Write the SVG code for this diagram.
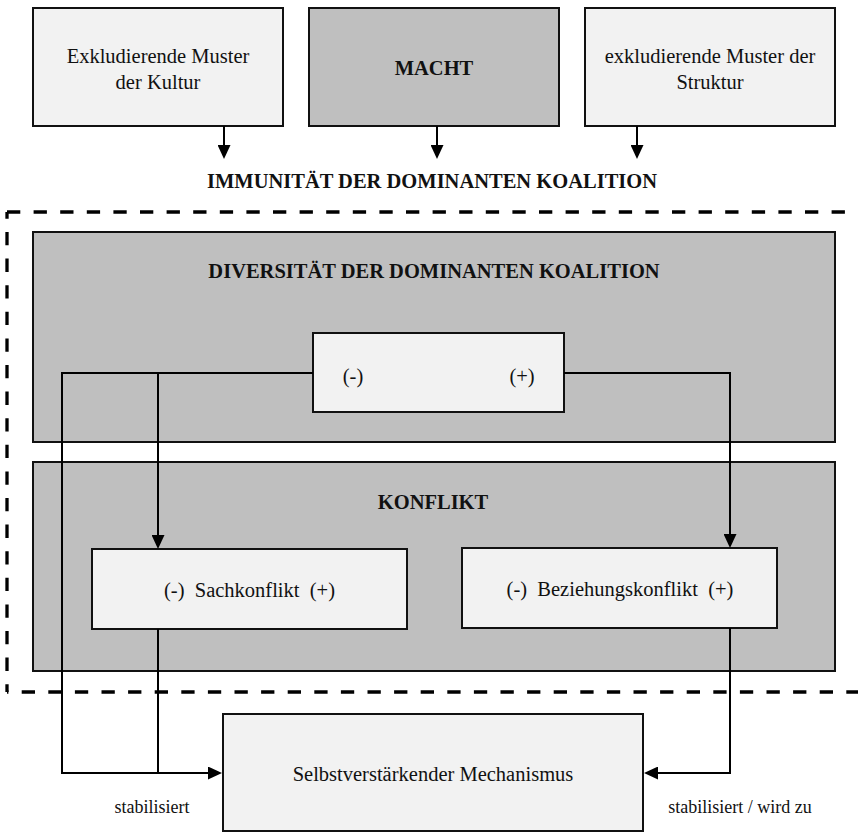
<svg xmlns="http://www.w3.org/2000/svg" width="858" height="833" viewBox="0 0 858 833">
  <defs>
    <marker id="arrow" markerUnits="userSpaceOnUse" markerWidth="14" markerHeight="13" refX="0.5" refY="6.5" orient="auto">
      <path d="M0,0 L14,6.5 L0,13 z" fill="#000"/>
    </marker>
    <style>
      .box { stroke: #111; stroke-width: 2; }
      .light { fill: #f2f2f2; }
      .dark { fill: #bfbfbf; }
      text { font-family: "Liberation Serif", "Times New Roman", serif; fill: #111; text-anchor: middle; }
      .t { font-size: 20.5px; }
      .b { font-size: 20.5px; font-weight: bold; }
      .s { font-size: 18px; }
      .conn { fill: none; stroke: #000; stroke-width: 2; }
      .dash { fill: none; stroke: #000; stroke-width: 3.3; stroke-dasharray: 13.3 13.3; }
    </style>
  </defs>

  <!-- boundary of the dominant coalition (open to the right) -->
  <g id="boundary">
    <path class="dash" d="M7,212 H858"/>
    <path class="dash" d="M7,212 V692" style="stroke-dashoffset:6.6"/>
    <path class="dash" d="M7,692 H858" style="stroke-dashoffset:11.9"/>
  </g>

  <g id="kultur">
    <rect class="box light" x="33" y="8" width="250" height="118"/>
    <text class="t" x="158" y="63">Exkludierende Muster</text>
    <text class="t" x="158" y="89">der Kultur</text>
  </g>

  <g id="macht">
    <rect class="box dark" x="309" y="8" width="250" height="118"/>
    <text class="b" x="434" y="74.5">MACHT</text>
  </g>

  <g id="struktur">
    <rect class="box light" x="585" y="8" width="250" height="118"/>
    <text class="t" x="710" y="63">exkludierende Muster der</text>
    <text class="t" x="710" y="89">Struktur</text>
  </g>

  <g id="immunitaet">
    <text class="b" x="432" y="188">IMMUNITÄT DER DOMINANTEN KOALITION</text>
  </g>

  <g id="diversitaet">
    <rect class="box dark" x="33" y="232" width="802" height="210"/>
    <text class="b" x="434" y="278">DIVERSITÄT DER DOMINANTEN KOALITION</text>
  </g>

  <g id="diversitaet-pole">
    <rect class="box light" x="313" y="333" width="251" height="79"/>
    <text class="t" x="353" y="383">(-)</text>
    <text class="t" x="522" y="383">(+)</text>
  </g>

  <g id="konflikt">
    <rect class="box dark" x="33" y="462" width="802" height="209"/>
    <text class="b" x="433" y="509">KONFLIKT</text>
  </g>

  <g id="sachkonflikt">
    <rect class="box light" x="92" y="549" width="315" height="80"/>
    <text class="t" x="249.5" y="596.5" xml:space="preserve">(-)  Sachkonflikt  (+)</text>
  </g>

  <g id="beziehungskonflikt">
    <rect class="box light" x="462" y="548" width="315" height="80"/>
    <text class="t" x="620" y="595.5" xml:space="preserve">(-)  Beziehungskonflikt  (+)</text>
  </g>

  <g id="mechanismus">
    <rect class="box light" x="223" y="714" width="420" height="117"/>
    <text class="t" x="433" y="781">Selbstverstärkender Mechanismus</text>
  </g>

  <g id="connectors">
    <path class="conn" d="M224,126 V145.5" marker-end="url(#arrow)"/>
    <path class="conn" d="M437,126 V145.5" marker-end="url(#arrow)"/>
    <path class="conn" d="M637,126 V145.5" marker-end="url(#arrow)"/>
    <path class="conn" d="M313,373 H62 V773 H208.5" marker-end="url(#arrow)"/>
    <path class="conn" d="M158,373 V535.5" marker-end="url(#arrow)"/>
    <path class="conn" d="M158,629 V773"/>
    <path class="conn" d="M564,373 H730 V534.5" marker-end="url(#arrow)"/>
    <path class="conn" d="M730,628 V773 H657.5" marker-end="url(#arrow)"/>
  </g>

  <g id="labels">
    <text class="s" x="152" y="812.5">stabilisiert</text>
    <text class="s" x="740" y="812.5">stabilisiert / wird zu</text>
  </g>
</svg>
